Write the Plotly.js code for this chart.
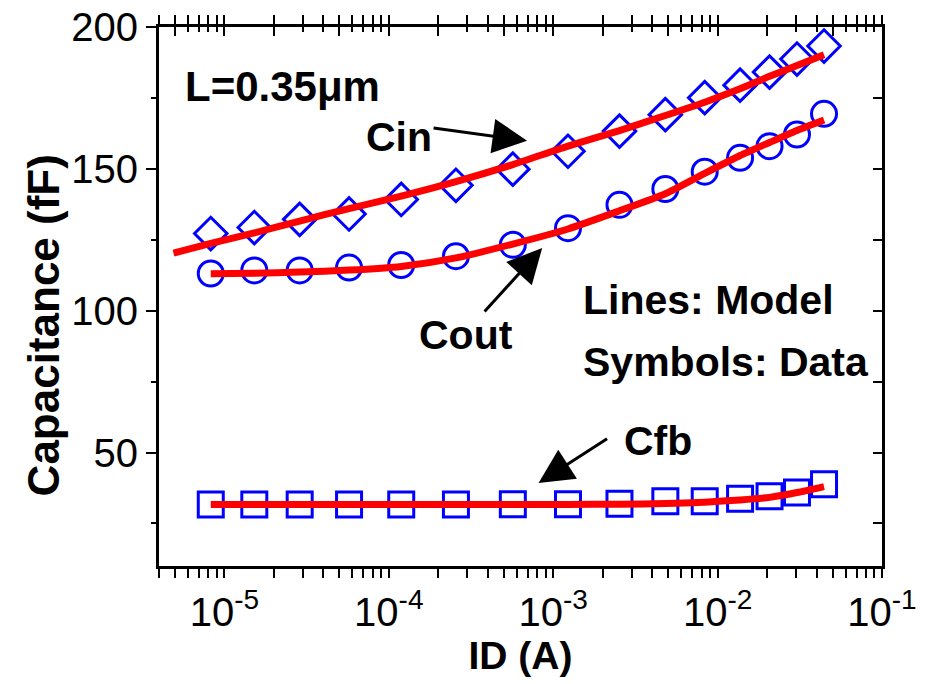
<!DOCTYPE html>
<html>
<head>
<meta charset="utf-8">
<script src="https://cdn.plot.ly/plotly-3.0.1.min.js"></script>
<style>html,body{margin:0;padding:0;background:#fff;}#chart{width:932px;height:684px;}</style>
</head>
<body>
<div id="chart"></div>
<script>
// Drain current ID (A) at measured points
const idData = [8.26e-6, 1.52e-5, 2.87e-5, 5.73e-5, 1.19e-4, 2.56e-4, 5.68e-4, 1.23e-3, 2.53e-3, 4.81e-3, 8.35e-3, 1.37e-2, 2.07e-2, 3.04e-2, 4.44e-2];
// Measured capacitances (fF)
const cinData  = [127.2, 129.3, 132.2, 134.1, 139.2, 144.2, 149.9, 156.2, 163.3, 169.1, 175.1, 179.5, 184.1, 188.7, 193.3];
const coutData = [113.1, 114.2, 114.2, 115.2, 116.1, 119.2, 123.2, 129.1, 137.3, 142.9, 149.0, 153.9, 158.0, 162.1, 169.4];
const cfbData  = [31.7, 31.7, 31.7, 31.7, 31.7, 31.7, 31.8, 31.8, 31.9, 32.8, 32.8, 33.7, 34.6, 35.9, 38.8];
// Model curves
const idModelCin = [4.9e-6, 8.26e-6, 1.52e-5, 2.87e-5, 5.73e-5, 1.19e-4, 2.56e-4, 5.68e-4, 1.23e-3, 2.53e-3, 4.81e-3, 8.35e-3, 1.37e-2, 2.07e-2, 3.04e-2, 4.44e-2];
const cinModel  = [120.3, 123.7, 127.4, 131.6, 136.0, 140.4, 145.5, 151.5, 158.0, 163.5, 168.8, 173.5, 178.2, 182.6, 186.4, 190.2];
const idModel = [8.26e-6, 1.52e-5, 2.87e-5, 5.73e-5, 1.19e-4, 2.56e-4, 5.68e-4, 1.23e-3, 2.53e-3, 4.81e-3, 8.35e-3, 1.37e-2, 2.07e-2, 3.04e-2, 4.44e-2];
const coutModel = [113.0, 113.2, 113.6, 114.3, 115.6, 118.6, 123.5, 128.8, 135.2, 141.2, 148.4, 154.7, 159.3, 163.5, 167.2];
const cfbModel  = [31.7, 31.7, 31.7, 31.7, 31.7, 31.7, 31.7, 31.7, 31.8, 32.0, 32.5, 33.3, 34.2, 35.9, 38.0];
// Axis ticks
const xTickVals = [1e-5, 1e-4, 1e-3, 1e-2, 1e-1];
const xTickText = ['10<sup>-5</sup>', '10<sup>-4</sup>', '10<sup>-3</sup>', '10<sup>-2</sup>', '10<sup>-1</sup>'];
const yTickVals = [50, 100, 150, 200];
const yTickText = ['50', '100', '150', '200'];

const FONT = 'Liberation Sans, Arial, Helvetica, sans-serif';
const BLUE = '#0000FF';
const RED = '#FF0000';

function markerTrace(y, symbol) {
  return {x: idData, y: y, type: 'scatter', mode: 'markers', showlegend: false, hoverinfo: 'skip',
    marker: {symbol: symbol, size: 25, color: BLUE, line: {color: BLUE, width: 3}}};
}
function lineTrace(x, y) {
  return {x: x, y: y, type: 'scatter', mode: 'lines', showlegend: false, hoverinfo: 'skip',
    line: {color: RED, width: 7, shape: 'spline', smoothing: 0.6}};
}

const traces = [
  markerTrace(cinData, 'diamond-open'),
  markerTrace(coutData, 'circle-open'),
  markerTrace(cfbData, 'square-open'),
  lineTrace(idModelCin, cinModel),
  lineTrace(idModel, coutModel),
  lineTrace(idModel, cfbModel),
  // invisible carriers so the mirrored (inside-tick) axes get drawn
  {x: [idData[0]], y: [cinData[0]], xaxis: 'x2', yaxis: 'y', type: 'scatter', mode: 'markers',
   marker: {opacity: 0}, showlegend: false, hoverinfo: 'skip'},
  {x: [idData[0]], y: [cinData[0]], xaxis: 'x', yaxis: 'y2', type: 'scatter', mode: 'markers',
   marker: {opacity: 0}, showlegend: false, hoverinfo: 'skip'}
];

const ann = (text, x, y, xanchor, size) => ({text: text, x: x, y: y, xref: 'x', yref: 'y', showarrow: false,
  xanchor: xanchor, yanchor: 'middle', font: {family: FONT, size: size, color: '#000', weight: 'bold'}});
const arrow = (x, y, ax, ay) => ({text: '', x: x, y: y, xref: 'x', yref: 'y', ax: ax, ay: ay,
  showarrow: true, arrowhead: 2, arrowsize: 2.3, arrowwidth: 3, arrowcolor: '#000', standoff: 0});

const layout = {
  width: 932, height: 684,
  margin: {l: 159, r: 50, t: 27, b: 118},
  paper_bgcolor: '#fff', plot_bgcolor: '#fff',
  showlegend: false,
  font: {family: FONT, color: '#000'},
  xaxis: {
    type: 'log', range: [Math.log10(4e-6), -1], tickmode: 'array', tickvals: xTickVals, ticktext: xTickText,
    showline: true, linewidth: 3, linecolor: '#000', mirror: 'allticks',
    ticks: 'outside', ticklen: 9, tickwidth: 2, tickcolor: '#000',
    minor: {ticks: 'outside', ticklen: 5, tickwidth: 2, tickcolor: '#000', dtick: 'D1', showgrid: false},
    showgrid: false, zeroline: false,
    tickfont: {family: FONT, size: 40, color: '#000'},
    title: {text: 'ID (A)', font: {family: FONT, size: 39, color: '#000', weight: 'bold'}, standoff: 6}
  },
  xaxis2: {
    type: 'log', range: [Math.log10(4e-6), -1], overlaying: 'x', side: 'top', anchor: 'y',
    showticklabels: false,
    ticks: 'inside', ticklen: 9, tickwidth: 2, tickcolor: '#000',
    minor: {ticks: 'inside', ticklen: 5, tickwidth: 2, tickcolor: '#000', dtick: 'D1'},
    gridcolor: 'rgba(0,0,0,0)'
  },
  yaxis: {
    range: [10, 200], tickmode: 'array', tickvals: yTickVals, ticktext: yTickText,
    showline: true, linewidth: 3, linecolor: '#000', mirror: true,
    ticks: 'outside', ticklen: 10, tickwidth: 2, tickcolor: '#000',
    minor: {ticks: 'outside', ticklen: 5, tickwidth: 2, tickcolor: '#000', dtick: 25, showgrid: false},
    showgrid: false, zeroline: false,
    tickfont: {family: FONT, size: 40, color: '#000'}
  },
  yaxis2: {
    range: [10, 200], overlaying: 'y', side: 'right', anchor: 'x',
    tickmode: 'array', tickvals: yTickVals, showticklabels: false, showline: false,
    ticks: 'inside', ticklen: 9, tickwidth: 2, tickcolor: '#000',
    minor: {ticks: 'inside', ticklen: 9, tickwidth: 2, tickcolor: '#000', dtick: 25, showgrid: false},
    showgrid: false, zeroline: false
  },
  annotations: [
    {text: 'Capacitance (fF)', textangle: -90, xref: 'paper', yref: 'paper', x: -0.160, y: 0.447,
     xanchor: 'center', yanchor: 'middle', showarrow: false,
     font: {family: FONT, size: 44, color: '#000', weight: 'bold'}},
    ann('L=0.35μm', -4.645, 179.2, 'center', 42),
    ann('Cin', -3.937, 161.2, 'center', 41),
    ann('Cout', -3.533, 91.3, 'center', 41),
    ann('Cfb', -2.361, 54.1, 'center', 41),
    ann('Lines: Model', -2.831, 103.8, 'left', 41),
    ann('Symbols: Data', -2.831, 81.9, 'left', 41),
    arrow(-3.159, 159.9, -95, -13),
    arrow(-3.067, 122.1, -59, 65),
    arrow(-3.089, 39.3, 70, -45)
  ]
};

Plotly.newPlot('chart', traces, layout, {staticPlot: true, displayModeBar: false});
</script>
</body>
</html>
